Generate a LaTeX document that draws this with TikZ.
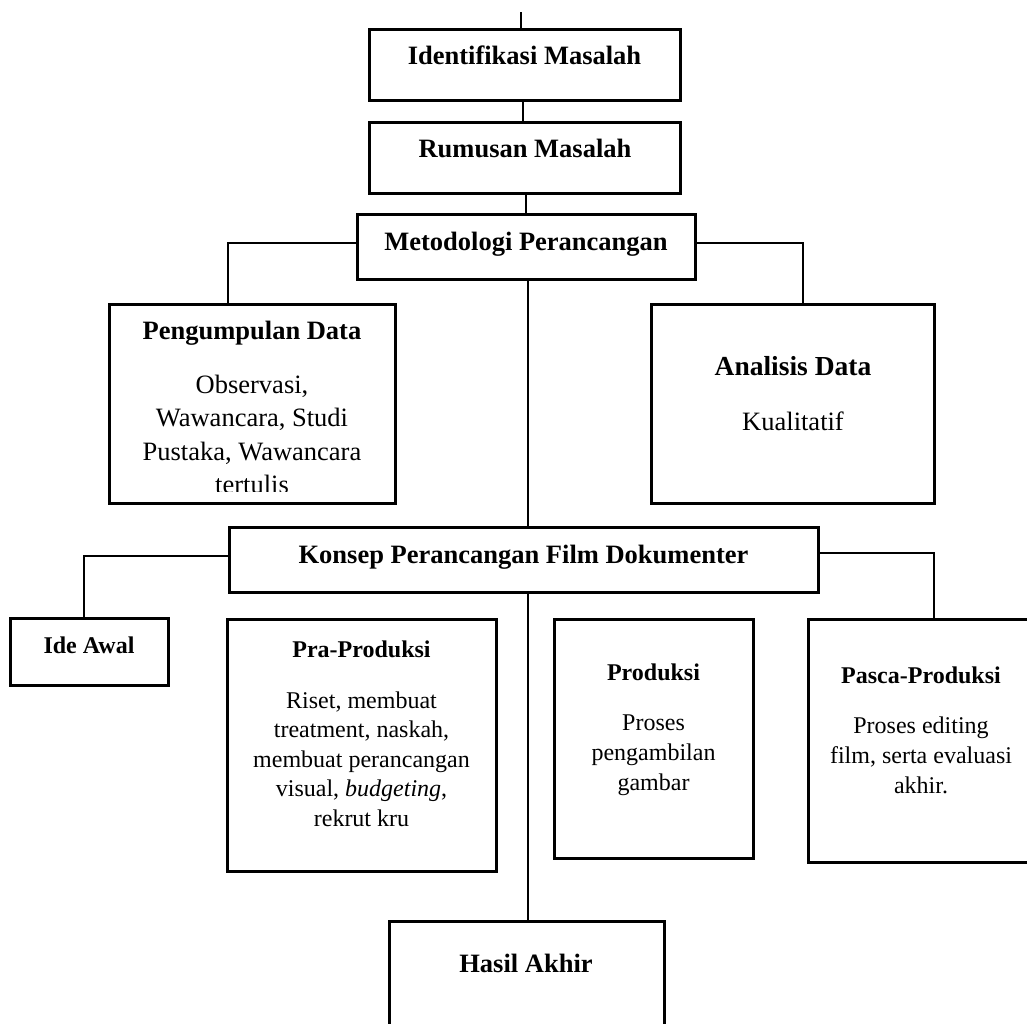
\documentclass[tikz,border=0pt]{standalone}
\usepackage{fontspec}
\setmainfont{Liberation Serif}
\begin{document}
\begin{tikzpicture}[x=1pt,y=-1pt,
  box/.style={draw, line width=3pt, rectangle, inner sep=0pt, outer sep=0pt, anchor=north west},
  conn/.style={line width=2.6pt},
  bigb/.style={font=\fontsize{26.5}{33.5}\selectfont\bfseries, anchor=base, inner sep=0pt},
  bigr/.style={font=\fontsize{26.5}{33.5}\selectfont, anchor=base, inner sep=0pt},
  smb/.style={font=\fontsize{24}{29.5}\selectfont\bfseries, anchor=base, inner sep=0pt},
  smr/.style={font=\fontsize{24}{29.5}\selectfont, anchor=base, inner sep=0pt}]
\useasboundingbox (0,0) rectangle (1027,1023);
\clip (0,0) rectangle (1027,1023);

% boxes
\node[box, minimum width=311pt, minimum height=71pt]  (idm) at (369,29) {};
\node[box, minimum width=311pt, minimum height=71pt]  (rum) at (369,122) {};
\node[box, minimum width=338pt, minimum height=65pt]  (met) at (357,214) {};
\node[box, minimum width=286pt, minimum height=199pt] (pd)  at (109,304) {};
\node[box, minimum width=283pt, minimum height=199pt] (ad)  at (651,304) {};
\node[box, minimum width=589pt, minimum height=65pt]  (kon) at (229,527) {};
\node[box, minimum width=158pt, minimum height=67pt]  (ide) at (10,618) {};
\node[box, minimum width=269pt, minimum height=252pt] (pra) at (227,619) {};
\node[box, minimum width=199pt, minimum height=239pt] (pro) at (554,619) {};
\node[box, minimum width=226pt, minimum height=243pt] (pas) at (808,619) {};
\node[box, minimum width=275pt, minimum height=139pt] (has) at (389,921) {};

% connectors
\coordinate (top) at (521,12);
\draw[conn] (top) -- (top |- idm.north);
\draw[conn] ([xshift=-1.5pt]idm.south) -- ([xshift=-1.5pt]rum.north);
\draw[conn] (rum.south -| met.north) -- (met.north);
\draw[conn] ([yshift=3.5pt]met.west) -| ([xshift=-24pt]pd.north);
\draw[conn] ([yshift=3.5pt]met.east) -| ([xshift=10.5pt]ad.north);
\draw[conn] ([xshift=2pt]met.south) -- ([xshift=4.5pt]kon.north);
\draw[conn] ([yshift=3.5pt]kon.west) -| ([xshift=-5pt]ide.north);
\draw[conn] ([yshift=6.5pt]kon.east) -| ([xshift=13pt]pas.north);
\draw[conn] ([xshift=4.5pt]kon.south) -- ([xshift=1.5pt]has.north);

% texts
\node[bigb] (tidm) at (524.5,64) {Identifikasi Masalah};
\node[bigb] (trum) at (525,157) {Rumusan Masalah};
\node[bigb] (tmet) at (526,250) {Metodologi Perancangan};

\node[bigb] (tpd) at (252,339) {Pengumpulan Data};
\node[bigr] (pd1) at (252,393) {Observasi,};
\node[bigr] (pd2) at (252,426.5) {Wawancara, Studi};
\node[bigr] (pd3) at (252,460) {Pustaka, Wawancara};
\begin{scope}
\clip (110,470) rectangle (394,491.5);
\node[bigr] (pd4) at (252,493.5) {tertulis};
\end{scope}

\node[bigb, font=\fontsize{27.5}{33}\selectfont\bfseries] (tad) at (793,375) {Analisis Data};
\node[bigr] (ad1) at (793,430) {Kualitatif};

\node[bigb] (tkon) at (523.5,563) {Konsep Perancangan Film Dokumenter};
\node[smb] (tide) at (89,653) {Ide Awal};

\node[smb] (tpra) at (361.5,657) {Pra-Produksi};
\node[smr] (pra1) at (361.5,708) {Riset, membuat};
\node[smr] (pra2) at (361.5,737.5) {treatment, naskah,};
\node[smr] (pra3) at (361.5,767) {membuat perancangan};
\node[smr] (pra4) at (361.5,796.5) {visual, \textit{budgeting},};
\node[smr] (pra5) at (361.5,826) {rekrut kru};

\node[smb] (tpro) at (653.5,680) {Produksi};
\node[smr] (pro1) at (653.5,730) {Proses};
\node[smr] (pro2) at (653.5,760) {pengambilan};
\node[smr] (pro3) at (653.5,790) {gambar};

\node[smb] (tpas) at (921,683) {Pasca-Produksi};
\node[smr] (pas1) at (921,733) {Proses editing};
\node[smr] (pas2) at (921,763) {film, serta evaluasi};
\node[smr] (pas3) at (921,793) {akhir.};

\node[bigb] (thas) at (526,972) {Hasil Akhir};
\end{tikzpicture}
\end{document}
